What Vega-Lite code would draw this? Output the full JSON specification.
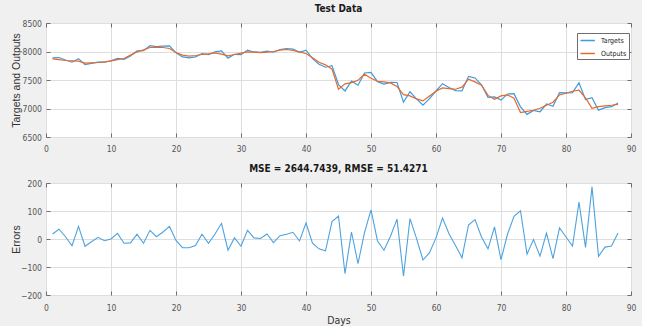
{
  "$schema": "https://vega.github.io/schema/vega-lite/v6.json",
  "autosize": {"type": "pad"},
  "padding": {"left": 10, "top": 3, "right": 5, "bottom": 0},
  "background": "#f0f0f0",
  "bounds": "flush",
  "spacing": 46,
  "config": {
    "view": {"fill": "white", "stroke": "#6e6e6e", "strokeWidth": 1},
    "font": "Liberation Sans",
    "axis": {
      "grid": true,
      "gridColor": "#dedede",
      "gridWidth": 1,
      "domain": false,
      "tickColor": "#6e6e6e",
      "tickSize": -4,
      "format": "d",
      "labelFont": "Liberation Sans Narrow, Arial Narrow, DejaVu Sans Condensed, Liberation Sans",
      "labelFontSize": 8.5,
      "labelColor": "#555555",
      "titleFont": "Liberation Sans",
      "titleFontSize": 10.5,
      "titleFontWeight": "normal",
      "titleColor": "#333333"
    },
    "title": {
      "font": "Liberation Sans Narrow, Arial Narrow, DejaVu Sans Condensed, Liberation Sans",
      "fontSize": 10,
      "fontWeight": "bold",
      "color": "#1a1a1a",
      "anchor": "middle",
      "offset": 5
    }
  },
  "datasets": {
    "d": [
      {"day": 1, "Targets": 7889, "Outputs": 7871, "Errors": 18},
      {"day": 2, "Targets": 7894, "Outputs": 7859, "Errors": 35},
      {"day": 3, "Targets": 7850, "Outputs": 7842, "Errors": 8},
      {"day": 4, "Targets": 7812, "Outputs": 7836, "Errors": -24},
      {"day": 5, "Targets": 7875, "Outputs": 7830, "Errors": 45},
      {"day": 6, "Targets": 7769, "Outputs": 7795, "Errors": -26},
      {"day": 7, "Targets": 7791, "Outputs": 7801, "Errors": -10},
      {"day": 8, "Targets": 7813, "Outputs": 7807, "Errors": 6},
      {"day": 9, "Targets": 7812, "Outputs": 7818, "Errors": -6},
      {"day": 10, "Targets": 7836, "Outputs": 7836, "Errors": 0},
      {"day": 11, "Targets": 7879, "Outputs": 7859, "Errors": 20},
      {"day": 12, "Targets": 7862, "Outputs": 7877, "Errors": -15},
      {"day": 13, "Targets": 7922, "Outputs": 7936, "Errors": -14},
      {"day": 14, "Targets": 8011, "Outputs": 7994, "Errors": 17},
      {"day": 15, "Targets": 8014, "Outputs": 8029, "Errors": -15},
      {"day": 16, "Targets": 8101, "Outputs": 8070, "Errors": 31},
      {"day": 17, "Targets": 8084, "Outputs": 8076, "Errors": 8},
      {"day": 18, "Targets": 8095, "Outputs": 8070, "Errors": 25},
      {"day": 19, "Targets": 8098, "Outputs": 8053, "Errors": 45},
      {"day": 20, "Targets": 7977, "Outputs": 7982, "Errors": -5},
      {"day": 21, "Targets": 7905, "Outputs": 7936, "Errors": -31},
      {"day": 22, "Targets": 7887, "Outputs": 7918, "Errors": -31},
      {"day": 23, "Targets": 7907, "Outputs": 7930, "Errors": -23},
      {"day": 24, "Targets": 7964, "Outputs": 7947, "Errors": 17},
      {"day": 25, "Targets": 7944, "Outputs": 7959, "Errors": -15},
      {"day": 26, "Targets": 7995, "Outputs": 7977, "Errors": 18},
      {"day": 27, "Targets": 8010, "Outputs": 7954, "Errors": 56},
      {"day": 28, "Targets": 7884, "Outputs": 7924, "Errors": -40},
      {"day": 29, "Targets": 7951, "Outputs": 7947, "Errors": 4},
      {"day": 30, "Targets": 7945, "Outputs": 7971, "Errors": -26},
      {"day": 31, "Targets": 8025, "Outputs": 7994, "Errors": 31},
      {"day": 32, "Targets": 7992, "Outputs": 7988, "Errors": 4},
      {"day": 33, "Targets": 7984, "Outputs": 7982, "Errors": 2},
      {"day": 34, "Targets": 8006, "Outputs": 7988, "Errors": 18},
      {"day": 35, "Targets": 7987, "Outputs": 8000, "Errors": -13},
      {"day": 36, "Targets": 8035, "Outputs": 8023, "Errors": 12},
      {"day": 37, "Targets": 8052, "Outputs": 8035, "Errors": 17},
      {"day": 38, "Targets": 8042, "Outputs": 8018, "Errors": 24},
      {"day": 39, "Targets": 7987, "Outputs": 7994, "Errors": -7},
      {"day": 40, "Targets": 8022, "Outputs": 7965, "Errors": 57},
      {"day": 41, "Targets": 7874, "Outputs": 7889, "Errors": -15},
      {"day": 42, "Targets": 7777, "Outputs": 7812, "Errors": -35},
      {"day": 43, "Targets": 7724, "Outputs": 7766, "Errors": -42},
      {"day": 44, "Targets": 7752, "Outputs": 7690, "Errors": 62},
      {"day": 45, "Targets": 7420, "Outputs": 7338, "Errors": 82},
      {"day": 46, "Targets": 7308, "Outputs": 7432, "Errors": -124},
      {"day": 47, "Targets": 7480, "Outputs": 7455, "Errors": 25},
      {"day": 48, "Targets": 7408, "Outputs": 7496, "Errors": -88},
      {"day": 49, "Targets": 7623, "Outputs": 7600, "Errors": 23},
      {"day": 50, "Targets": 7634, "Outputs": 7530, "Errors": 104},
      {"day": 51, "Targets": 7471, "Outputs": 7478, "Errors": -7},
      {"day": 52, "Targets": 7427, "Outputs": 7467, "Errors": -40},
      {"day": 53, "Targets": 7459, "Outputs": 7449, "Errors": 10},
      {"day": 54, "Targets": 7456, "Outputs": 7385, "Errors": 71},
      {"day": 55, "Targets": 7111, "Outputs": 7244, "Errors": -133},
      {"day": 56, "Targets": 7294, "Outputs": 7221, "Errors": 73},
      {"day": 57, "Targets": 7170, "Outputs": 7168, "Errors": 2},
      {"day": 58, "Targets": 7058, "Outputs": 7133, "Errors": -75},
      {"day": 59, "Targets": 7172, "Outputs": 7221, "Errors": -49},
      {"day": 60, "Targets": 7307, "Outputs": 7303, "Errors": 4},
      {"day": 61, "Targets": 7436, "Outputs": 7361, "Errors": 75},
      {"day": 62, "Targets": 7369, "Outputs": 7350, "Errors": 19},
      {"day": 63, "Targets": 7315, "Outputs": 7338, "Errors": -23},
      {"day": 64, "Targets": 7308, "Outputs": 7375, "Errors": -67},
      {"day": 65, "Targets": 7564, "Outputs": 7514, "Errors": 50},
      {"day": 66, "Targets": 7536, "Outputs": 7467, "Errors": 69},
      {"day": 67, "Targets": 7415, "Outputs": 7408, "Errors": 7},
      {"day": 68, "Targets": 7195, "Outputs": 7230, "Errors": -35},
      {"day": 69, "Targets": 7203, "Outputs": 7160, "Errors": 43},
      {"day": 70, "Targets": 7147, "Outputs": 7221, "Errors": -74},
      {"day": 71, "Targets": 7255, "Outputs": 7238, "Errors": 17},
      {"day": 72, "Targets": 7261, "Outputs": 7180, "Errors": 81},
      {"day": 73, "Targets": 7029, "Outputs": 6928, "Errors": 101},
      {"day": 74, "Targets": 6897, "Outputs": 6951, "Errors": -54},
      {"day": 75, "Targets": 6967, "Outputs": 6969, "Errors": -2},
      {"day": 76, "Targets": 6943, "Outputs": 7004, "Errors": -61},
      {"day": 77, "Targets": 7078, "Outputs": 7057, "Errors": 21},
      {"day": 78, "Targets": 7040, "Outputs": 7110, "Errors": -70},
      {"day": 79, "Targets": 7278, "Outputs": 7238, "Errors": 40},
      {"day": 80, "Targets": 7275, "Outputs": 7268, "Errors": 7},
      {"day": 81, "Targets": 7278, "Outputs": 7303, "Errors": -25},
      {"day": 82, "Targets": 7452, "Outputs": 7320, "Errors": 132},
      {"day": 83, "Targets": 7156, "Outputs": 7186, "Errors": -30},
      {"day": 84, "Targets": 7190, "Outputs": 7004, "Errors": 186},
      {"day": 85, "Targets": 6971, "Outputs": 7033, "Errors": -62},
      {"day": 86, "Targets": 7016, "Outputs": 7045, "Errors": -29},
      {"day": 87, "Targets": 7032, "Outputs": 7057, "Errors": -25},
      {"day": 88, "Targets": 7095, "Outputs": 7074, "Errors": 21}
    ]
  },
  "vconcat": [
    {
      "width": 585,
      "height": 114,
      "title": {"text": "Test Data"},
      "layer": [
        {
          "data": {"name": "d"},
          "transform": [{"fold": ["Targets", "Outputs"], "as": ["series", "value"]}],
          "mark": {"type": "line", "strokeWidth": 1.2},
          "encoding": {
            "x": {
              "field": "day", "type": "quantitative",
              "scale": {"domain": [0, 90], "nice": false, "zero": false},
              "axis": {"orient": "bottom", "values": [0, 10, 20, 30, 40, 50, 60, 70, 80, 90], "labelPadding": 11, "title": null, "labelFlush": false}
            },
            "y": {
              "field": "value", "type": "quantitative",
              "scale": {"domain": [6500, 8500], "nice": false, "zero": false},
              "axis": {"orient": "left", "values": [6500, 7000, 7500, 8000, 8500], "labelPadding": 8.5, "title": "Targets and Outputs", "titleX": -27, "titleY": 57, "titleBaseline": "alphabetic", "titleAngle": 270, "labelFlush": false}
            },
            "color": {
              "field": "series", "type": "nominal",
              "scale": {"domain": ["Targets", "Outputs"], "range": ["#3f9bda", "#e5692d"]},
              "legend": {
                "orient": "none", "legendX": 531, "legendY": 10, "direction": "vertical",
                "title": null, "symbolType": "M-1.8,0H1.8", "symbolSize": 64, "symbolStrokeWidth": 1.5,
                "symbolOffset": 3.2,
                "fillColor": "white", "strokeColor": "#6e6e6e", "padding": 2.5, "rowPadding": 5,
                "labelFont": "Liberation Sans Narrow, Arial Narrow, DejaVu Sans Condensed, Liberation Sans",
                "labelFontSize": 7, "labelColor": "#222222", "labelOffset": 8.4
              }
            }
          }
        },
        {
          "data": {"name": "d"},
          "mark": {"type": "point", "opacity": 0},
          "encoding": {
            "x": {
              "field": "day", "type": "quantitative",
              "scale": {"domain": [0, 90], "nice": false, "zero": false},
              "axis": {"orient": "top", "values": [0, 10, 20, 30, 40, 50, 60, 70, 80, 90], "labels": false, "grid": false, "title": null}
            },
            "y": {
              "field": "Targets", "type": "quantitative",
              "scale": {"domain": [6500, 8500], "nice": false, "zero": false},
              "axis": {"orient": "right", "values": [6500, 7000, 7500, 8000, 8500], "labels": false, "grid": false, "title": null}
            }
          }
        }
      ],
      "resolve": {"axis": {"x": "independent", "y": "independent"}}
    },
    {
      "width": 585,
      "height": 112,
      "title": {"text": "MSE = 2644.7439, RMSE = 51.4271"},
      "layer": [
        {
          "data": {"name": "d"},
          "mark": {"type": "line", "strokeWidth": 1.1, "color": "#4da3df"},
          "encoding": {
            "x": {
              "field": "day", "type": "quantitative",
              "scale": {"domain": [0, 90], "nice": false, "zero": false},
              "axis": {"orient": "bottom", "values": [0, 10, 20, 30, 40, 50, 60, 70, 80, 90], "labelPadding": 12, "title": "Days", "titlePadding": 4, "titleFont": "Liberation Sans Narrow, Arial Narrow, DejaVu Sans Condensed, Liberation Sans", "labelFlush": false}
            },
            "y": {
              "field": "Errors", "type": "quantitative",
              "scale": {"domain": [-200, 200], "nice": false, "zero": false},
              "axis": {"orient": "left", "values": [-200, -100, 0, 100, 200], "labelPadding": 8.5, "title": "Errors", "titleX": -27, "titleY": 56, "titleBaseline": "alphabetic", "titleAngle": 270, "labelFlush": false}
            }
          }
        },
        {
          "data": {"name": "d"},
          "mark": {"type": "point", "opacity": 0},
          "encoding": {
            "x": {
              "field": "day", "type": "quantitative",
              "scale": {"domain": [0, 90], "nice": false, "zero": false},
              "axis": {"orient": "top", "values": [0, 10, 20, 30, 40, 50, 60, 70, 80, 90], "labels": false, "grid": false, "title": null}
            },
            "y": {
              "field": "Errors", "type": "quantitative",
              "scale": {"domain": [-200, 200], "nice": false, "zero": false},
              "axis": {"orient": "right", "values": [-200, -100, 0, 100, 200], "labels": false, "grid": false, "title": null}
            }
          }
        }
      ],
      "resolve": {"axis": {"x": "independent", "y": "independent"}}
    }
  ]
}
